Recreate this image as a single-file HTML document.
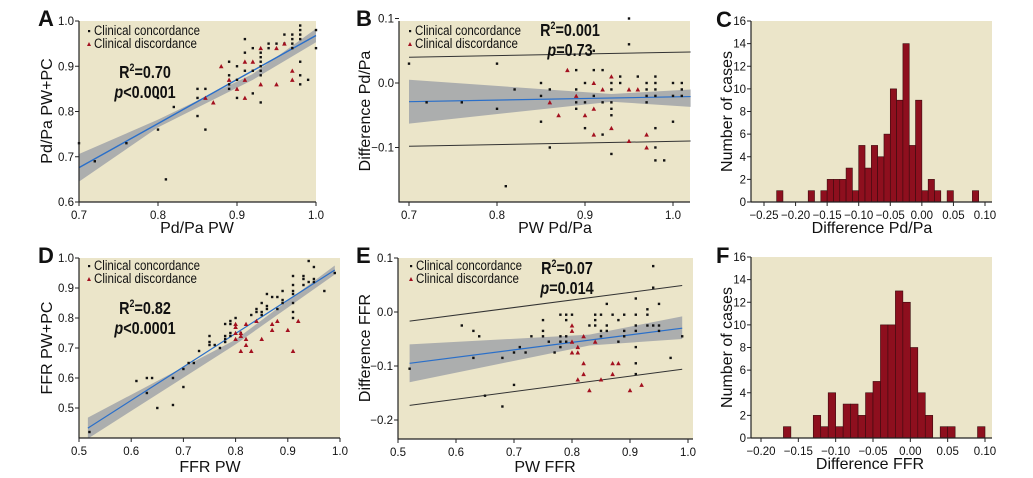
<!DOCTYPE html>
<html><head><meta charset="utf-8"><style>
body{margin:0;background:#fff;}
svg{display:block;font-family:"Liberation Sans",sans-serif;}
.tk{font-family:"Liberation Sans Narrow","Liberation Sans",sans-serif;font-size:11.5px;fill:#111;}
.ttl{font-size:16px;fill:#111;}
.lg{font-size:13.5px;fill:#111;}
.st{font-family:"Liberation Sans Narrow","Liberation Sans",sans-serif;font-weight:bold;font-size:18px;fill:#111;}
.let{font-family:"Liberation Sans Narrow","Liberation Sans",sans-serif;font-weight:bold;font-size:22px;fill:#111;}
</style></head><body>
<svg id="s" width="1033" height="478" viewBox="0 0 1033 478" xmlns="http://www.w3.org/2000/svg"></svg>
<script>
var S=document.getElementById('s'),h='';
var BG='#ebe5c9',RED='#a3101f';
function P(x0,x1,vx0,vx1,y0,y1,vy0,vy1){return{X:function(v){return x0+(v-vx0)/(vx1-vx0)*(x1-x0)},Y:function(v){return y0+(v-vy0)/(vy1-vy0)*(y1-y0)}};}
function dots(p,b,r){b.forEach(function(d){h+='<rect x="'+(p.X(d[0])-1.2)+'" y="'+(p.Y(d[1])-1.2)+'" width="2.4" height="2.4" fill="#111"/>';});
 r.forEach(function(d){var x=p.X(d[0]),y=p.Y(d[1]);h+='<polygon points="'+(x-2.3)+','+(y+2)+' '+(x+2.3)+','+(y+2)+' '+x+','+(y-2.3)+'" fill="'+RED+'"/>';});}
function line(p,a,b,c,w){h+='<line x1="'+p.X(a[0])+'" y1="'+p.Y(a[1])+'" x2="'+p.X(b[0])+'" y2="'+p.Y(b[1])+'" stroke="'+c+'" stroke-width="'+(w||1)+'"/>';}
function band(p,up,lo){var s='';up.forEach(function(d){s+=p.X(d[0])+','+p.Y(d[1])+' ';});lo.slice().reverse().forEach(function(d){s+=p.X(d[0])+','+p.Y(d[1])+' ';});h+='<polygon points="'+s+'" fill="#a5a7ab" opacity="0.9"/>';}
function frame(l,t,r,b){h+='<rect x="'+l+'" y="'+t+'" width="'+(r-l)+'" height="'+(b-t)+'" fill="'+BG+'"/>';}
function axes(l,t,r,b){h+='<line x1="'+l+'" y1="'+t+'" x2="'+l+'" y2="'+(b+0.5)+'" stroke="#222" stroke-width="1.2"/><line x1="'+l+'" y1="'+b+'" x2="'+r+'" y2="'+b+'" stroke="#222" stroke-width="1.2"/>';}
function yt(p,l,vals,fmt){vals.forEach(function(v){var y=p.Y(v);h+='<line x1="'+(l-4)+'" y1="'+y+'" x2="'+l+'" y2="'+y+'" stroke="#222"/><text class="tk" x="'+(l-5)+'" y="'+(y+4)+'" text-anchor="end">'+fmt(v)+'</text>';});}
function xt(p,b,vals,fmt){vals.forEach(function(v){var x=p.X(v);h+='<line x1="'+x+'" y1="'+b+'" x2="'+x+'" y2="'+(b+4)+'" stroke="#222"/><text class="tk" x="'+x+'" y="'+(b+17)+'" text-anchor="middle">'+fmt(v)+'</text>';});}
function txt(x,y,s,c,a){h+='<text class="'+c+'" x="'+x+'" y="'+y+'" text-anchor="'+(a||'start')+'">'+s+'</text>';}
function ylab(x,y,s){h+='<text class="ttl" transform="translate('+x+','+y+') rotate(-90)" text-anchor="middle">'+s+'</text>';}
function legend(x,y){h+='<rect x="'+(x-1)+'" y="'+(y-5)+'" width="2.2" height="2.2" fill="#111"/>';
 h+='<text class="lg" x="'+(x+5)+'" y="'+y+'" textLength="106" lengthAdjust="spacingAndGlyphs">Clinical concordance</text>';
 h+='<polygon points="'+(x-2)+','+(y+11)+' '+(x+2)+','+(y+11)+' '+x+','+(y+7)+'" fill="'+RED+'"/>';
 h+='<text class="lg" x="'+(x+5)+'" y="'+(y+13)+'" textLength="103" lengthAdjust="spacingAndGlyphs">Clinical discordance</text>';}
function f1(v){return v.toFixed(1)} function f0(v){return v.toFixed(0)} function f2(v){return v.toFixed(2).replace('-','\u2212')} function f1m(v){return v.toFixed(1).replace('-','\u2212')}
function stats(x,y,r,pp){h+='<text class="st" transform="translate('+x+','+y+') scale(0.8,1)" text-anchor="middle">R<tspan font-size="11" dy="-7">2</tspan><tspan dy="7">'+r+'</tspan></text>';
 h+='<text class="st" transform="translate('+x+','+(y+20)+') scale(0.8,1)" text-anchor="middle"><tspan font-style="italic">p</tspan>'+pp+'</text>';}

// ---- A
var pA=P(79,316,0.7,1.0,21,202,1.0,0.6);
frame(79,21,316,202);
band(pA,[[0.7,0.706],[0.8,0.782],[0.92,0.883],[1.0,0.983]],[[0.7,0.645],[0.8,0.765],[0.92,0.870],[1.0,0.953]]);
line(pA,[0.7,0.676],[1.0,0.968],'#2a6fc9',1.4);
dots(pA,[[0.70,0.73],[0.72,0.69],[0.76,0.73],[0.80,0.83],[0.80,0.76],[0.81,0.65],[0.82,0.81],[0.85,0.85],[0.85,0.83],[0.85,0.79],[0.86,0.85],[0.86,0.76],[0.89,0.91],[0.89,0.88],[0.89,0.86],[0.89,0.85],[0.90,0.90],[0.90,0.87],[0.90,0.83],[0.91,0.96],[0.91,0.93],[0.91,0.89],[0.92,0.94],[0.92,0.89],[0.92,0.84],[0.93,0.93],[0.93,0.92],[0.93,0.91],[0.93,0.90],[0.93,0.89],[0.93,0.88],[0.93,0.82],[0.94,0.95],[0.94,0.94],[0.95,0.95],[0.96,0.97],[0.96,0.95],[0.97,0.97],[0.97,0.96],[0.97,0.95],[0.97,0.94],[0.98,0.99],[0.98,0.98],[0.98,0.97],[0.98,0.96],[0.98,0.91],[0.98,0.88],[0.98,0.86],[0.99,0.87],[1.0,0.98],[1.0,0.94]],
[[0.86,0.83],[0.87,0.82],[0.88,0.90],[0.89,0.87],[0.90,0.85],[0.91,0.91],[0.91,0.87],[0.91,0.83],[0.92,0.91],[0.93,0.94],[0.93,0.86],[0.95,0.94],[0.95,0.86],[0.96,0.95],[0.97,0.89],[0.97,0.87]]);
axes(79,21,316,202);yt(pA,79,[0.6,0.7,0.8,0.9,1.0],f1);xt(pA,202,[0.7,0.8,0.9,1.0],f1);
legend(89,35);stats(145,78,'=0.70','<0.0001');
txt(197,233,'Pd/Pa PW','ttl','middle');ylab(52,111,'Pd/Pa PW+PC');txt(38,26,'A','let');

// ---- B
var pB=P(409,673,0.7,1.0,83,147.5,0,-0.1);
frame(399,21,690,202);
band(pB,[[0.7,0.005],[0.93,-0.017],[1.02,-0.01]],[[0.7,-0.063],[0.93,-0.029],[1.02,-0.037]]);
line(pB,[0.7,-0.029],[1.02,-0.021],'#2a6fc9',1.2);
line(pB,[0.7,0.040],[1.02,0.048],'#333',1);line(pB,[0.7,-0.098],[1.02,-0.090],'#333',1);
dots(pB,[[0.70,0.03],[0.72,-0.03],[0.76,-0.03],[0.80,0.03],[0.80,-0.04],[0.81,-0.16],[0.82,-0.01],[0.85,0],[0.85,-0.02],[0.85,-0.06],[0.86,-0.01],[0.86,-0.10],[0.89,0.02],[0.89,-0.01],[0.89,-0.03],[0.89,-0.04],[0.90,0],[0.90,-0.03],[0.90,-0.07],[0.91,0.05],[0.91,0.02],[0.91,-0.02],[0.92,0.02],[0.92,-0.03],[0.92,-0.08],[0.93,0],[0.93,-0.01],[0.93,-0.03],[0.93,-0.04],[0.93,-0.05],[0.93,-0.11],[0.94,0.01],[0.94,0],[0.95,0.10],[0.95,0.06],[0.96,0.01],[0.97,0],[0.97,-0.01],[0.97,-0.02],[0.97,-0.03],[0.98,0.01],[0.98,0],[0.98,-0.01],[0.98,-0.02],[0.98,-0.07],[0.98,-0.10],[0.98,-0.12],[0.99,-0.12],[1.0,0],[1.0,-0.02],[1.0,-0.06],[1.01,0],[1.01,-0.01],[1.01,-0.02]],
[[0.86,-0.03],[0.87,-0.05],[0.88,0.02],[0.89,-0.02],[0.90,-0.05],[0.91,0],[0.91,-0.04],[0.91,-0.08],[0.92,-0.01],[0.93,0.01],[0.93,-0.07],[0.95,-0.01],[0.95,-0.09],[0.96,-0.01],[0.97,-0.08],[0.97,-0.10]]);
axes(399,21,690,202);yt(pB,399,[0.1,0,-0.1],f1m);xt(pB,202,[0.7,0.8,0.9,1.0],f1);
legend(410,35);stats(570,36,'=0.001','=0.73');
txt(555,233,'PW Pd/Pa','ttl','middle');ylab(370,111,'Difference Pd/Pa');txt(356,26,'B','let');

// ---- histograms
function hist(l,t,r,b,x0,x1,v0,v1,ymax,start,counts,ticks,xlab,lx,letter,ly){
 frame(l,t,r,b);var p=P(x0,x1,v0,v1,b,t,0,ymax);
 for(var i=0;i<counts.length;i++){if(!counts[i])continue;var a=p.X(start+i*0.01),c=p.X(start+(i+1)*0.01),y=p.Y(counts[i]);
  h+='<rect x="'+a+'" y="'+y+'" width="'+(c-a)+'" height="'+(b-y)+'" fill="#8e0f1e" stroke="#3a0a0e" stroke-width="0.6"/>';}
 axes(l,t,r,b);yt(p,l,[0,2,4,6,8,10,12,14,16],f0);xt(p,b,ticks,f2);
 txt(lx,b+31,xlab,'ttl','middle');ylab(ly,(t+b)/2,'Number of cases');txt(716,t+6,letter,'let');}
hist(751,21,992,202,764,985,-0.25,0.10,16,-0.23,[1,0,0,0,0,1,0,1,2,2,2,3,1,5,3,5,4,6,10,9,14,5,9,1,2,1,0,1,0,0,0,1],[-0.25,-0.2,-0.15,-0.1,-0.05,0,0.05,0.1],'Difference Pd/Pa',872,'C',732);
hist(751,257,992,438,761,985,-0.20,0.10,16,-0.17,[1,0,0,0,2,1,4,1,3,3,2,4,5,10,10,13,12,8,4,2,0,1,1,0,0,0,1],[-0.2,-0.15,-0.1,-0.05,0,0.05,0.1],'Difference FFR',870,'F',732);

// ---- D
var pD=P(79,340,0.5,1.0,408,258,0.5,1.0);
frame(79,258,340,438);
band(pD,[[0.517,0.468],[0.8,0.728],[0.99,0.975]],[[0.517,0.398],[0.8,0.712],[0.99,0.945]]);
line(pD,[0.517,0.433],[0.99,0.96],'#2a6fc9',1.2);
dots(pD,[[0.52,0.42],[0.61,0.59],[0.63,0.60],[0.63,0.55],[0.64,0.60],[0.65,0.50],[0.68,0.60],[0.68,0.51],[0.70,0.63],[0.70,0.57],[0.71,0.65],[0.72,0.65],[0.73,0.69],[0.75,0.74],[0.75,0.72],[0.75,0.71],[0.76,0.71],[0.77,0.70],[0.78,0.78],[0.78,0.74],[0.78,0.73],[0.78,0.72],[0.79,0.79],[0.79,0.78],[0.79,0.75],[0.79,0.74],[0.80,0.80],[0.81,0.75],[0.83,0.81],[0.84,0.83],[0.84,0.82],[0.85,0.85],[0.85,0.82],[0.85,0.81],[0.86,0.88],[0.86,0.84],[0.86,0.83],[0.87,0.87],[0.88,0.87],[0.88,0.83],[0.89,0.89],[0.89,0.86],[0.89,0.85],[0.91,0.94],[0.91,0.91],[0.91,0.89],[0.91,0.88],[0.91,0.85],[0.91,0.82],[0.91,0.80],[0.93,0.94],[0.93,0.93],[0.93,0.91],[0.94,0.99],[0.94,0.92],[0.95,0.97],[0.95,0.93],[0.95,0.92],[0.97,0.89],[0.99,0.95]],
[[0.80,0.78],[0.80,0.77],[0.80,0.75],[0.80,0.73],[0.81,0.75],[0.81,0.74],[0.81,0.69],[0.82,0.78],[0.82,0.73],[0.82,0.71],[0.83,0.69],[0.84,0.79],[0.85,0.73],[0.87,0.78],[0.87,0.76],[0.88,0.79],[0.90,0.76],[0.91,0.69],[0.92,0.79]]);
axes(79,258,340,438);yt(pD,79,[0.5,0.6,0.7,0.8,0.9,1.0],f1);xt(pD,438,[0.5,0.6,0.7,0.8,0.9,1.0],f1);
legend(89,270);stats(145,314,'=0.82','<0.0001');
txt(210,472,'FFR PW','ttl','middle');ylab(52,348,'FFR PW+PC');txt(38,263,'D','let');

// ---- E
var pE=P(398,688,0.5,1.0,312,366,0,-0.1);
frame(398,258,693,439);
band(pE,[[0.52,-0.06],[0.83,-0.042],[0.99,-0.008]],[[0.52,-0.13],[0.83,-0.062],[0.99,-0.05]]);
line(pE,[0.52,-0.095],[0.99,-0.03],'#2a6fc9',1.2);
line(pE,[0.52,-0.017],[0.99,0.049],'#333',1);line(pE,[0.52,-0.173],[0.99,-0.106],'#333',1);
dots(pE,[[0.52,-0.105],[0.61,-0.025],[0.63,-0.035],[0.63,-0.085],[0.64,-0.045],[0.65,-0.155],[0.68,-0.085],[0.68,-0.175],[0.70,-0.075],[0.70,-0.135],[0.71,-0.065],[0.72,-0.075],[0.73,-0.045],[0.75,-0.015],[0.75,-0.035],[0.75,-0.045],[0.76,-0.055],[0.77,-0.075],[0.78,-0.005],[0.78,-0.045],[0.78,-0.055],[0.78,-0.065],[0.79,-0.005],[0.79,-0.015],[0.79,-0.045],[0.79,-0.055],[0.80,-0.005],[0.83,-0.025],[0.84,-0.005],[0.84,-0.015],[0.84,-0.025],[0.85,-0.005],[0.85,-0.035],[0.85,-0.045],[0.86,0.015],[0.86,-0.025],[0.86,-0.035],[0.87,-0.005],[0.88,-0.015],[0.88,-0.055],[0.89,-0.005],[0.89,-0.035],[0.89,-0.045],[0.91,0.025],[0.91,-0.005],[0.91,-0.025],[0.91,-0.035],[0.91,-0.065],[0.91,-0.095],[0.91,-0.115],[0.93,0.005],[0.93,-0.005],[0.93,-0.025],[0.94,0.085],[0.94,0.045],[0.94,-0.025],[0.95,0.015],[0.95,-0.025],[0.95,-0.035],[0.97,-0.085],[0.99,-0.045]],
[[0.80,-0.025],[0.80,-0.035],[0.80,-0.055],[0.80,-0.075],[0.81,-0.065],[0.81,-0.075],[0.81,-0.125],[0.82,-0.045],[0.82,-0.095],[0.82,-0.115],[0.83,-0.145],[0.84,-0.055],[0.85,-0.125],[0.87,-0.095],[0.87,-0.115],[0.88,-0.095],[0.90,-0.145],[0.92,-0.135]]);
axes(398,258,693,439);yt(pE,398,[0.1,0,-0.1,-0.2],f1m);xt(pE,439,[0.5,0.6,0.7,0.8,0.9,1.0],f1);
legend(411,270);stats(567,274,'=0.07','=0.014');
txt(545,472,'PW FFR','ttl','middle');ylab(370,348,'Difference FFR');txt(356,263,'E','let');

S.innerHTML=h;
</script>
</body></html>
